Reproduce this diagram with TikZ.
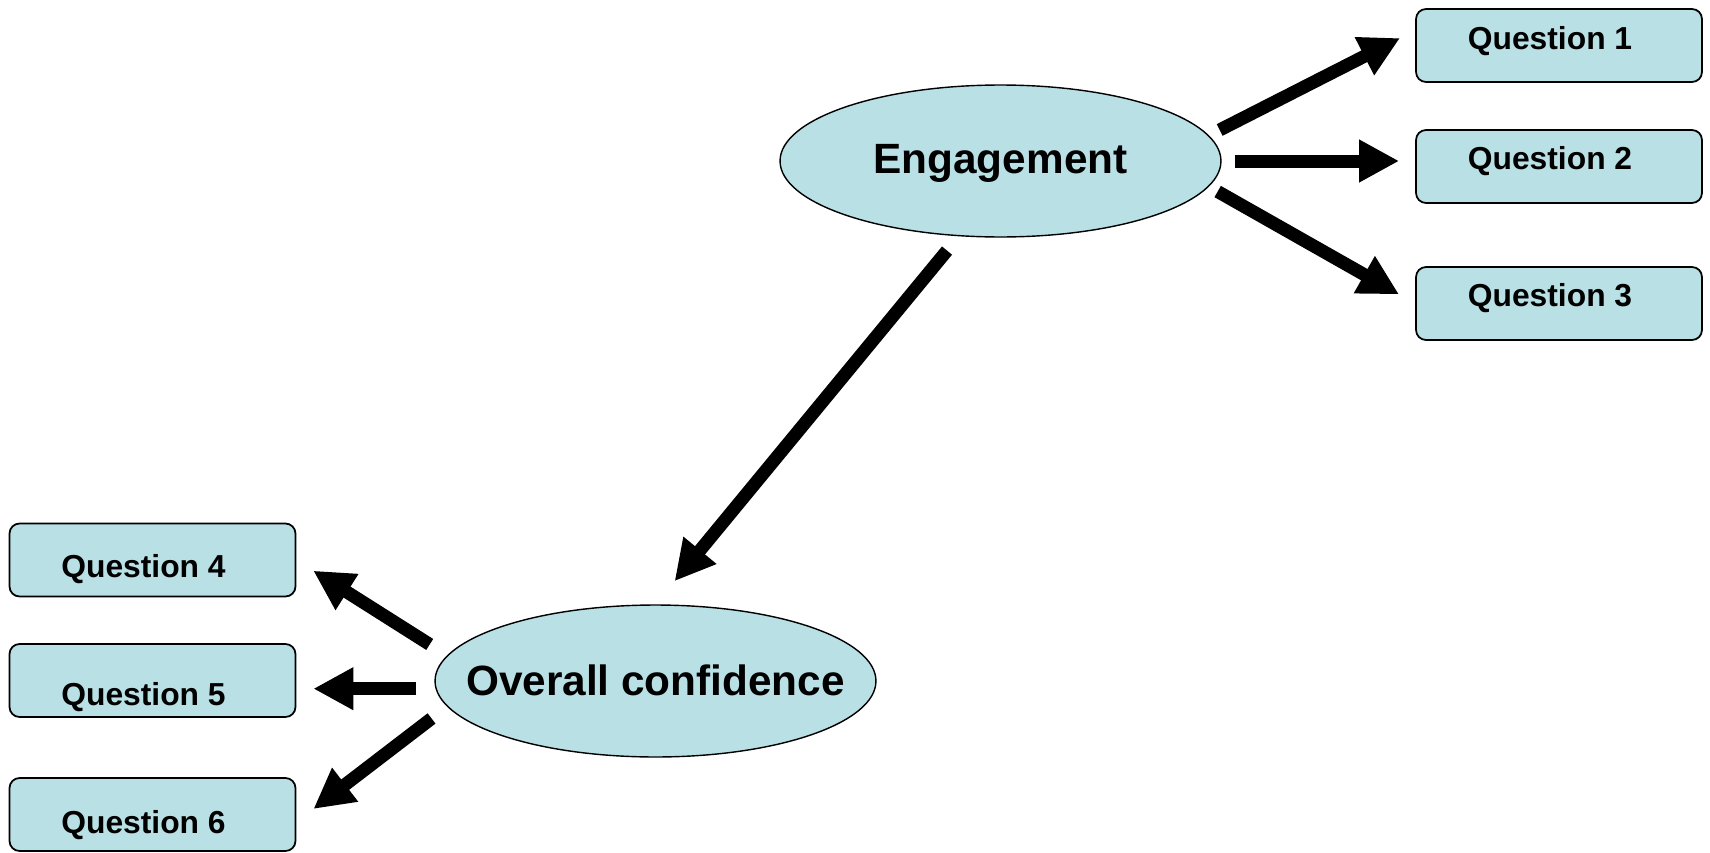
\documentclass[tikz,border=0pt]{standalone}
\usepackage{fontspec}
\setmainfont{Liberation Sans}
\usetikzlibrary{arrows.meta,shapes.geometric}
\definecolor{boxfill}{RGB}{185,224,228}
\tikzstyle{question}=[draw, line width=1pt, fill=boxfill, rounded corners=0.2cm,
  minimum width=5.72cm, minimum height=1.46cm, inner sep=0pt]
\tikzstyle{factor}=[ellipse, draw, line width=0.8pt, fill=boxfill,
  minimum width=8.82cm, minimum height=3.04cm, inner sep=0pt]
\tikzstyle{qtext}=[font=\fontsize{18.1}{20}\selectfont\bfseries, xshift=-0.18cm]
\tikzstyle{ftext}=[font=\fontsize{24.1}{28}\selectfont\bfseries]
\tikzstyle{line}=[draw, line width=0.26cm, -{Triangle[length=0.8cm,width=0.8cm]}]

\begin{document}
\begin{tikzpicture}[x=0.02cm, y=-0.02cm]
  \useasboundingbox (0,0) rectangle (1710,852);

  % Draw diagram elements
  \path (1000.5,161) node (eng) [factor,
    label={[ftext, yshift=-0.05cm]center:Engagement}] {};
  \path (eng.center)+(558.5,-115.5) node (q1) [question,
    label={[qtext, yshift=0.08cm]center:Question 1}] {};
  \path (q1.center)+(0,121) node (q2) [question,
    label={[qtext, yshift=0.1cm]center:Question 2}] {};
  \path (q2.center)+(0,137) node (q3) [question,
    label={[qtext, yshift=0.1cm]center:Question 3}] {};

  \path (eng.center)+(-345,520) node (conf) [factor,
    label={[ftext, yshift=0.02cm]center:Overall confidence}] {};
  \path (conf.center)+(-503,-121) node (q4) [question,
    label={[qtext, yshift=-0.18cm]center:Question 4}] {};
  \path (q4.center)+(0,120.5) node (q5) [question,
    label={[qtext, yshift=-0.33cm]center:Question 5}] {};
  \path (q5.center)+(0,134) node (q6) [question,
    label={[qtext, yshift=-0.21cm]center:Question 6}] {};

  % Draw arrows between elements
  \path [line, shorten <=0.24cm, shorten >=0.34cm] (eng.7) -- (q1.174);
  \path [line, shorten <=0.26cm, shorten >=0.32cm] (eng.east) -- (eng.east -| q2.west);
  \path [line, shorten <=0.2cm, shorten >=0.37cm] (eng.353) -- (q3.west);

  \path [line, shorten <=0.37cm, shorten >=0.6cm] (eng.241) -- (conf.north);

  \path [line, shorten <=0.41cm, shorten >=0.4cm] (conf.173) -- (q4.east);
  \path [line, shorten <=0.38cm, shorten >=0.34cm] (conf.182) -- (conf.182 -| q5.east);
  \path [line, shorten <=0.39cm, shorten >=0.43cm] (conf.187) -- (q6.357);
\end{tikzpicture}
\end{document}
